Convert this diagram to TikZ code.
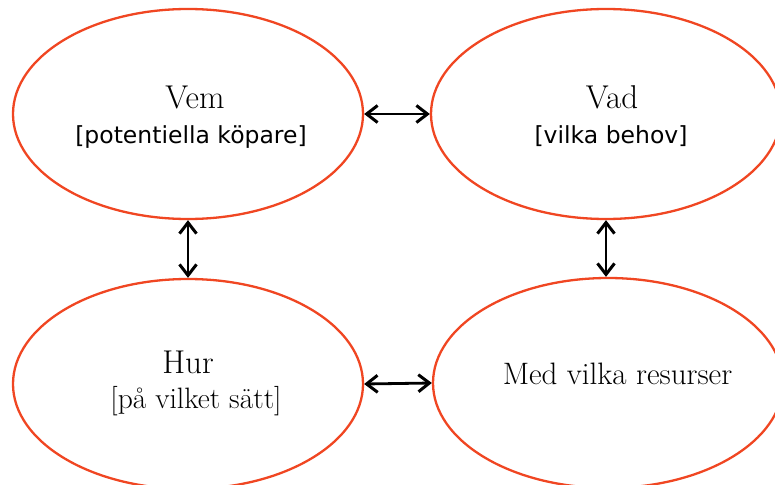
\documentclass[tikz,border=0pt]{standalone}
\usepackage{fontspec}
\newfontfamily\sansfont{DejaVu Sans}
\usetikzlibrary{shapes.geometric,arrows.meta}
\definecolor{ringred}{RGB}{240,70,34}
\tikzset{
  topic/.style={ellipse, draw=ringred, line width=2.3pt, minimum width=350pt, minimum height=210pt, inner sep=0pt},
  serifline/.style={anchor=base, inner sep=0pt, text=black, font=\fontsize{33}{36}\selectfont},
  sansline/.style={anchor=base, inner sep=0pt, text=black, font=\sansfont\fontsize{23.5}{26}\selectfont},
  barb/.tip={Straight Barb[length=11pt,width=17pt,line width=3pt]},
  link/.style={line width=2.8pt, black, barb-barb}
}
\begin{document}
\begin{tikzpicture}[x=1pt,y=-1pt]
\useasboundingbox (0,0) rectangle (775,484);
\clip (0,0) rectangle (775,484);
\node[topic] (vem) at (188,114) {};
\node[topic] (vad) at (606,114) {};
\node[topic] (hur) at (188,384) {};
\node[topic] (med) at (608,383) {};
\node[serifline] (vemT) at (195,109) {Vem};
\node[sansline] (vemS) at (191,143) {[potentiella köpare]};
\node[serifline] (vadT) at (612,109) {Vad};
\node[sansline] (vadS) at (611,143) {[vilka behov]};
\node[serifline] (hurT) at (188,373) {Hur};
\node[serifline, font=\fontsize{29.5}{33}\selectfont] (hurS) at (196,408) {[på vilket sätt]};
\node[serifline, font=\fontsize{31}{34}\selectfont] (medT) at (617.5,384) {Med vilka resurser};
\draw[link] (vem.east) -- (vad.west);
\draw[link] (vem.south) -- (hur.north);
\draw[link] (vad.south) -- (vad.south |- med.north);
\draw[link] (hur.east) -- (med.west);
\end{tikzpicture}
\end{document}
